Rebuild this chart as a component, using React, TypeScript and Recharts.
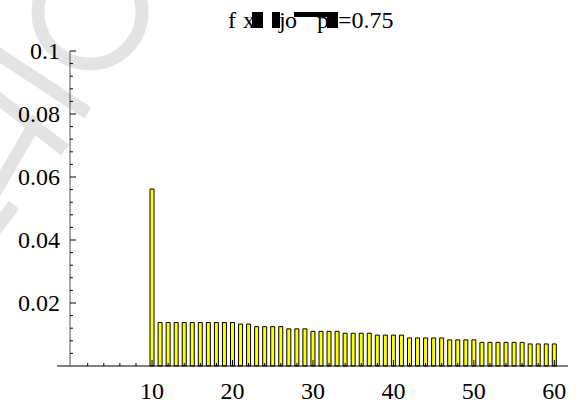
import { BarChart, Bar, XAxis, YAxis } from "recharts";

// bar positions and probabilities
const positions = [
  10, 11, 12, 13, 14, 15, 16, 17, 18, 19, 20, 21, 22, 23, 24, 25, 26, 27, 28, 29, 30,
  31, 32, 33, 34, 35, 36, 37, 38, 39, 40, 41, 42, 43, 44, 45, 46, 47, 48, 49, 50,
  51, 52, 53, 54, 55, 56, 57, 58, 59, 60,
];
const probs = [
  0.0562, 0.0138, 0.0138, 0.0138, 0.0138, 0.0138, 0.0138, 0.0138, 0.0138, 0.0138, 0.0138,
  0.0133, 0.0133, 0.0125, 0.0125, 0.0125, 0.0125, 0.0118, 0.0118, 0.0118, 0.011,
  0.011, 0.011, 0.011, 0.0104, 0.0104, 0.0104, 0.0104, 0.0098, 0.0098, 0.0098,
  0.0098, 0.0089, 0.0089, 0.0089, 0.0089, 0.0089, 0.0083, 0.0083, 0.0083, 0.0083,
  0.0075, 0.0075, 0.0075, 0.0075, 0.0075, 0.0075, 0.007, 0.007, 0.007, 0.007,
];

const xTicks = [
  2, 4, 6, 8, 10, 12, 14, 16, 18, 20, 22, 24, 26, 28, 30, 32, 34, 36, 38, 40,
  42, 44, 46, 48, 50, 52, 54, 56, 58, 60,
];
const xLabels = [10, 20, 30, 40, 50, 60];
const yTicks = [
  0.004, 0.008, 0.012, 0.016, 0.02, 0.024, 0.028, 0.032, 0.036, 0.04, 0.044, 0.048,
  0.052, 0.056, 0.06, 0.064, 0.068, 0.072, 0.076, 0.08, 0.084, 0.088, 0.092, 0.096, 0.1,
];
const yLabels = [0.02, 0.04, 0.06, 0.08, 0.1];

const data = positions.map((n, i) => ({ n, p: probs[i] }));

const FONT = "'Liberation Serif', 'Times New Roman', serif";

function XTick(props: any) {
  const { x, y, payload } = props;
  const major = xLabels.includes(payload.value);
  return (
    <g>
      <line x1={x} x2={x} y1={y} y2={y - (major ? 6 : 3)} stroke="#000" strokeWidth={1} />
      {major && (
        <text x={x} y={y + 33} textAnchor="middle" fontFamily={FONT} fontSize={24} fill="#000">
          {payload.value}
        </text>
      )}
    </g>
  );
}

function YTick(props: any) {
  const { x, y, payload } = props;
  const major = yLabels.some((v) => Math.abs(v - payload.value) < 1e-9);
  return (
    <g>
      <line x1={x} x2={x + (major ? 6 : 3)} y1={y} y2={y} stroke="#000" strokeWidth={1} />
      {major && (
        <text x={x - 10} y={y + 8} textAnchor="end" fontFamily={FONT} fontSize={24} fill="#000">
          {String(payload.value)}
        </text>
      )}
    </g>
  );
}

export default function App() {
  return (
    <div style={{ position: "absolute", left: 0, top: 0, width: 579, height: 407, background: "#fff" }}>
      {/* faint background stamp */}
      <svg width={579} height={407} style={{ position: "absolute", left: 0, top: 0 }}>
        <g stroke="#e4e4e4" strokeWidth={13} fill="none">
          <circle cx={90} cy={12} r={52} />
          <line x1={-5} y1={52} x2={88} y2={113} />
          <line x1={-5} y1={96} x2={65} y2={150} />
          <line x1={38} y1={118} x2={-5} y2={192} />
          <line x1={14} y1={205} x2={-5} y2={230} />
        </g>
      </svg>

      <div style={{ position: "absolute", left: 0, top: 0 }}>
        <BarChart
          width={579}
          height={407}
          data={data}
          margin={{ top: 51, right: 11, bottom: 40, left: 69 }}
        >
          <XAxis
            dataKey="n"
            type="number"
            domain={[-0.2, 61.7]}
            allowDataOverflow
            ticks={xTicks}
            interval={0}
            height={1}
            tickSize={0}
            tickMargin={0}
            tickLine={false}
            axisLine={{ stroke: "#000", strokeWidth: 1 }}
            tick={(p: any) => <XTick {...p} />}
          />
          <YAxis
            type="number"
            domain={[0, 0.1]}
            ticks={yTicks}
            interval={0}
            width={1}
            tickSize={0}
            tickMargin={0}
            tickLine={false}
            axisLine={{ stroke: "#555", strokeWidth: 1 }}
            tick={(p: any) => <YTick {...p} />}
          />
          <Bar
            dataKey="p"
            barSize={4}
            fill="#ffff00"
            stroke="#000"
            strokeWidth={1}
            isAnimationActive={false}
          />
        </BarChart>
      </div>

      {/* title and left stub of the horizontal axis */}
      <svg width={579} height={407} style={{ position: "absolute", left: 0, top: 0, pointerEvents: "none" }}>
        <line x1={57} x2={70} y1={366} y2={366} stroke="#000" strokeWidth={1} />
        <g fontFamily={FONT} fontSize={24} fill="#000">
          <text x={228} y={28}>f</text>
          <text x={243} y={28}>x</text>
          <text x={279} y={28}>j</text>
          <text x={285} y={28}>o</text>
          <text x={317} y={28}>p</text>
          <text x={338} y={28}>=0.75</text>
        </g>
        <g fill="#000">
          <rect x={252} y={12} width={11} height={16} />
          <rect x={272} y={12} width={8} height={16} />
          <rect x={294} y={12} width={34} height={5} />
          <rect x={327} y={12} width={11} height={16} />
        </g>
      </svg>
    </div>
  );
}
